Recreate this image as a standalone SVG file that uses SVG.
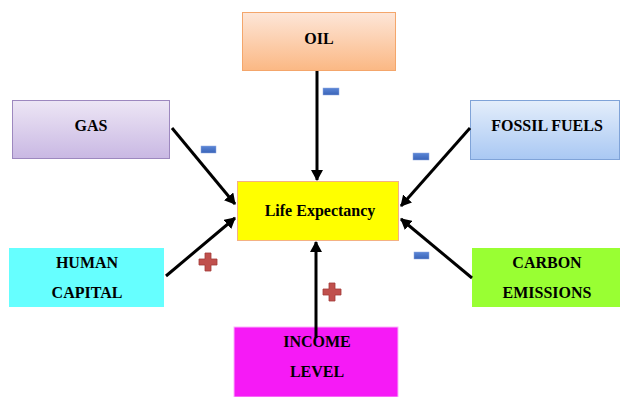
<svg xmlns="http://www.w3.org/2000/svg" width="620" height="397" viewBox="0 0 620 397">
<defs>
<linearGradient id="gOil" x1="0" y1="0" x2="0" y2="1"><stop offset="0" stop-color="#fde6d8"/><stop offset="1" stop-color="#fbb884"/></linearGradient>
<linearGradient id="gGas" x1="0" y1="0" x2="0" y2="1"><stop offset="0" stop-color="#ede6f5"/><stop offset="1" stop-color="#c9b8e3"/></linearGradient>
<linearGradient id="gFos" x1="0" y1="0" x2="0" y2="1"><stop offset="0" stop-color="#e4eefb"/><stop offset="1" stop-color="#a9c8f3"/></linearGradient>
<marker id="ah" markerWidth="12" markerHeight="12" refX="10" refY="6" orient="auto" markerUnits="userSpaceOnUse"><path d="M0,0 L11,6 L0,12 Z" fill="#000"/></marker>
<linearGradient id="gMinus" x1="0" y1="0" x2="0" y2="1"><stop offset="0" stop-color="#5b86d6"/><stop offset="1" stop-color="#3a64b8"/></linearGradient>
</defs>
<style>
.t{font-family:"Liberation Serif","Times New Roman",serif;font-weight:bold;font-size:16px;fill:#000;text-anchor:middle}
.c{stroke:#000;stroke-width:3;fill:none;marker-end:url(#ah)}
.minus{fill:url(#gMinus);stroke:#8ea9e0;stroke-width:0.5}
.plus{fill:#c0504d;stroke:#a23b38;stroke-width:0.8}
</style>
<rect width="620" height="397" fill="#fff"/>
<g id="oil"><rect x="242.5" y="12.5" width="153" height="58" fill="url(#gOil)" stroke="#f4a66b"/><text class="t" x="319" y="44">OIL</text></g>
<g id="gas"><rect x="12.5" y="100.5" width="157" height="58" fill="url(#gGas)" stroke="#9d88bf"/><text class="t" x="91" y="131">GAS</text></g>
<g id="fossil-fuels"><rect x="470.5" y="100.5" width="149" height="59" fill="url(#gFos)" stroke="#7fa3d8"/><text class="t" x="547" y="131">FOSSIL FUELS</text></g>
<g id="life-expectancy"><rect x="237.5" y="181.5" width="161" height="59" fill="#ffff00" stroke="#f4b183"/><text class="t" x="320" y="216">Life Expectancy</text></g>
<g id="human-capital"><rect x="9" y="248" width="155" height="59" fill="#66ffff"/><text class="t" x="87" y="268">HUMAN</text><text class="t" x="87" y="298">CAPITAL</text></g>
<g id="carbon-emissions"><rect x="472" y="248" width="148" height="59" fill="#99ff33"/><text class="t" x="547" y="268">CARBON</text><text class="t" x="547" y="298">EMISSIONS</text></g>
<g id="income-level"><rect x="234" y="327" width="164" height="70" fill="#f61af6" stroke="#fbb3fb"/><text class="t" x="317" y="347">INCOME</text><text class="t" x="317" y="377">LEVEL</text></g>
<g id="connectors">
<line class="c" x1="317" y1="71" x2="317" y2="180"/>
<line class="c" x1="172" y1="128" x2="235" y2="204"/>
<line class="c" x1="470" y1="128" x2="401" y2="206"/>
<line class="c" x1="166" y1="276" x2="235" y2="218"/>
<line class="c" x1="472" y1="278" x2="401" y2="219"/>
<line class="c" x1="316" y1="338" x2="316" y2="242"/>
</g>
<g id="signs">
<rect class="minus" x="323" y="88" width="16" height="7"/>
<rect class="minus" x="201" y="146" width="15" height="7"/>
<rect class="minus" x="413" y="153" width="16" height="7"/>
<rect class="minus" x="414" y="252" width="15" height="7"/>
<path class="plus" d="M205,253 h6 v6 h6 v6 h-6 v6 h-6 v-6 h-6 v-6 h6 Z"/>
<path class="plus" d="M329,283 h6 v6 h6 v6 h-6 v6 h-6 v-6 h-6 v-6 h6 Z"/>
</g>
</svg>
